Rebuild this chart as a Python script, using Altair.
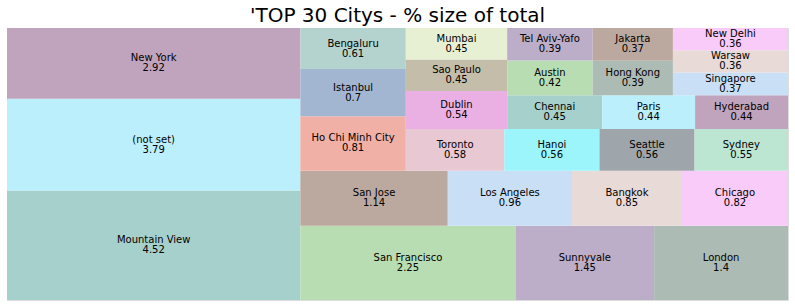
import altair as alt
import pandas as pd

# ---- data ----
cities = ["Mountain View", "(not set)", "New York", "San Francisco", "Sunnyvale", "London",
          "San Jose", "Los Angeles", "Bangkok", "Chicago", "Ho Chi Minh City", "Istanbul",
          "Bengaluru", "Toronto", "Hanoi", "Seattle", "Sydney", "Dublin", "Sao Paulo", "Mumbai",
          "Chennai", "Paris", "Hyderabad", "Austin", "Tel Aviv-Yafo", "Hong Kong", "Jakarta",
          "Singapore", "Warsaw", "New Delhi"]
shares = [4.52, 3.79, 2.92, 2.25, 1.45, 1.4, 1.14, 0.96, 0.85, 0.82, 0.81, 0.7, 0.61, 0.58,
          0.56, 0.56, 0.55, 0.54, 0.45, 0.45, 0.45, 0.44, 0.44, 0.42, 0.39, 0.39, 0.37, 0.37,
          0.36, 0.36]
value_labels = ["4.52", "3.79", "2.92", "2.25", "1.45", "1.4", "1.14", "0.96", "0.85", "0.82",
                "0.81", "0.7", "0.61", "0.58", "0.56", "0.56", "0.55", "0.54", "0.45", "0.45",
                "0.45", "0.44", "0.44", "0.42", "0.39", "0.39", "0.37", "0.37", "0.36", "0.36"]
title_text = ["'TOP 30 Citys - % size of total"]

palette = ["#a6d0cb", "#bbeffc", "#c0a4bd", "#b8ddb3", "#bcadc8", "#adbbb5", "#bba99f",
           "#c9dff6", "#e8dad7", "#f9cbf9", "#f1b0a6", "#a2b6d1", "#b4d3ce", "#e8c9d3",
           "#9bf5fa", "#9fa6ab", "#bce5d2", "#ebb0e3", "#c4bda9", "#e8f0d4"]

# ---- squarify layout (normalized 100 x 100) ----
def layoutrow(sizes, x, y, dx, dy):
    width = sum(sizes) / dy
    rects = []
    for s in sizes:
        rects.append((x, y, width, s / width))
        y += s / width
    return rects

def layoutcol(sizes, x, y, dx, dy):
    height = sum(sizes) / dx
    rects = []
    for s in sizes:
        rects.append((x, y, s / height, height))
        x += s / height
    return rects

def layout(sizes, x, y, dx, dy):
    return layoutrow(sizes, x, y, dx, dy) if dx >= dy else layoutcol(sizes, x, y, dx, dy)

def leftover(sizes, x, y, dx, dy):
    if dx >= dy:
        w = sum(sizes) / dy
        return x + w, y, dx - w, dy
    h = sum(sizes) / dx
    return x, y + h, dx, dy - h

def worst(sizes, x, y, dx, dy):
    return max(max(r[2] / r[3], r[3] / r[2]) for r in layout(sizes, x, y, dx, dy))

def squarify(sizes, x, y, dx, dy):
    if not sizes:
        return []
    if len(sizes) == 1:
        return layout(sizes, x, y, dx, dy)
    i = 1
    while i < len(sizes) and worst(sizes[:i], x, y, dx, dy) >= worst(sizes[:i + 1], x, y, dx, dy):
        i += 1
    cur, rem = sizes[:i], sizes[i:]
    lx, ly, ldx, ldy = leftover(cur, x, y, dx, dy)
    return layout(cur, x, y, dx, dy) + squarify(rem, lx, ly, ldx, ldy)

total = sum(shares)
norm = [s * 100 * 100 / total for s in shares]
rects = squarify(norm, 0.0, 0.0, 100.0, 100.0)

df = pd.DataFrame({
    "city": cities,
    "val": value_labels,
    "x": [r[0] for r in rects],
    "x2": [r[0] + r[2] for r in rects],
    "y": [r[1] for r in rects],
    "y2": [r[1] + r[3] for r in rects],
    "cx": [r[0] + r[2] / 2 for r in rects],
    "cy": [r[1] + r[3] / 2 for r in rects],
    "color": [palette[i % len(palette)] for i in range(len(cities))],
})

xs = alt.Scale(domain=[0, 100], nice=False, zero=False)
ys = alt.Scale(domain=[0, 100], nice=False, zero=False)

base = alt.Chart(df)
rect = base.mark_rect(strokeWidth=0).encode(
    x=alt.X("x:Q", scale=xs, axis=None),
    x2="x2:Q",
    y=alt.Y("y:Q", scale=ys, axis=None),
    y2="y2:Q",
    color=alt.Color("color:N", scale=None),
)
name_txt = base.mark_text(font="DejaVu Sans", fontSize=10, color="#000000",
                          baseline="middle", dy=-5).encode(
    x=alt.X("cx:Q", scale=xs, axis=None),
    y=alt.Y("cy:Q", scale=ys, axis=None),
    text="city:N",
)
val_txt = base.mark_text(font="DejaVu Sans", fontSize=10, color="#000000",
                         baseline="middle", dy=5).encode(
    x=alt.X("cx:Q", scale=xs, axis=None),
    y=alt.Y("cy:Q", scale=ys, axis=None),
    text="val:N",
)
title_mark = alt.Chart(pd.DataFrame({"t": title_text})).mark_text(
    font="DejaVu Sans", fontSize=20, color="#000000", align="center", baseline="alphabetic"
).encode(x=alt.value(390.5), y=alt.value(-6), text="t:N")

chart = alt.layer(rect, name_txt, val_txt, title_mark).properties(
    width=781, height=272,
    padding={"left": 7, "top": 28, "right": 7, "bottom": 7},
    autosize=alt.AutoSizeParams(type="none"),
).configure_view(stroke=None).configure(background="white")

chart.save("out.html", embed_options={"renderer": "svg", "actions": False})
